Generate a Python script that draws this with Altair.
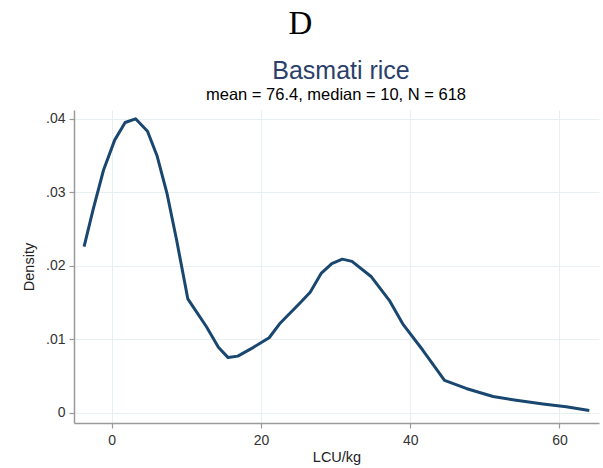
import altair as alt
import pandas as pd

# Kernel density curve
price = [-3.7, -2.5, -1.1, 0.4, 1.8, 3.2, 4.8, 6.1, 7.4, 8.7, 10.2, 12.7, 14.3,
         15.6, 16.9, 19.0, 21.1, 22.5, 25.2, 26.6, 28.1, 29.5, 30.9, 32.2, 34.8,
         37.2, 39.0, 41.7, 44.6, 47.5, 51.1, 54.2, 57.8, 60.9, 64.0]
density = [.0226, .0276, .0330, .0371, .0395, .0400, .0383, .0349, .0299, .0235,
           .0155, .0117, .0089, .0075, .0077, .0089, .0102, .0121, .0149, .0164,
           .0190, .0203, .0209, .0206, .0185, .0153, .0121, .0085, .0044, .0033,
           .0022, .0017, .0012, .0008, .0003]

x_ticks = [0, 20, 40, 60]
y_ticks = [0, 0.01, 0.02, 0.03, 0.04]

panel_letter = ["D"]
title_text = ["Basmati rice"]
subtitle_text = ["mean = 76.4, median = 10, N = 618"]

df = pd.DataFrame({"price": price, "density": density})

W, H = 525, 313
LEFT, TOP = 74, 110

font = "Liberation Sans"
axis_gray = "#9a9a9a"
grid = "#E6F0F2"
navy = "#1a476f"

line = alt.Chart(df).mark_line(color=navy, strokeWidth=3, strokeJoin="round").encode(
    x=alt.X("price:Q",
            scale=alt.Scale(domain=[-5.05, 65.3], nice=False, zero=False),
            axis=alt.Axis(values=x_ticks, title="LCU/kg", format="d",
                          labelPadding=5, titlePadding=3, titleFontWeight="normal")),
    y=alt.Y("density:Q",
            scale=alt.Scale(domain=[-0.0014, 0.0412], nice=False, zero=False),
            axis=alt.Axis(values=y_ticks, title="Density",
                          labelExpr="datum.value == 0 ? '0' : replace(format(datum.value, '.2f'), '0.', '.')",
                          labelPadding=4, titlePadding=9, titleFontWeight="normal")),
)


def text_layer(values, x, y, **style):
    return alt.Chart(pd.DataFrame({"label": values})).mark_text(
        align="center", baseline="alphabetic", **style
    ).encode(text="label:N", x=alt.value(x), y=alt.value(y))


letter = text_layer(panel_letter, 300.5 - LEFT, 34 - TOP,
                    font="Liberation Serif", fontSize=33, color="black")
title = text_layer(title_text, 341 - LEFT, 79 - TOP,
                   font=font, fontSize=25, color="#2B3F6B")
subtitle = text_layer(subtitle_text, 336 - LEFT, 99.5 - TOP,
                      font=font, fontSize=16.5, color="black")

chart = alt.layer(line, letter, title, subtitle).properties(
    width=W, height=H,
    background="white",
    autosize=alt.AutoSizeParams(type="none"),
    padding={"left": LEFT, "top": TOP, "right": 603 - LEFT - W, "bottom": 468 - TOP - H},
).configure_view(stroke=None).configure_axis(
    labelFont=font, titleFont=font, labelFontSize=14, titleFontSize=14.5,
    titleFontWeight="normal", labelColor="#333333", titleColor="#222222",
    domainColor=axis_gray, domainWidth=1.5, tickColor=axis_gray, tickWidth=1.2,
    tickSize=5, gridColor=grid, gridWidth=1,
)

chart.save("out.html", embed_options={"renderer": "svg", "actions": False})
